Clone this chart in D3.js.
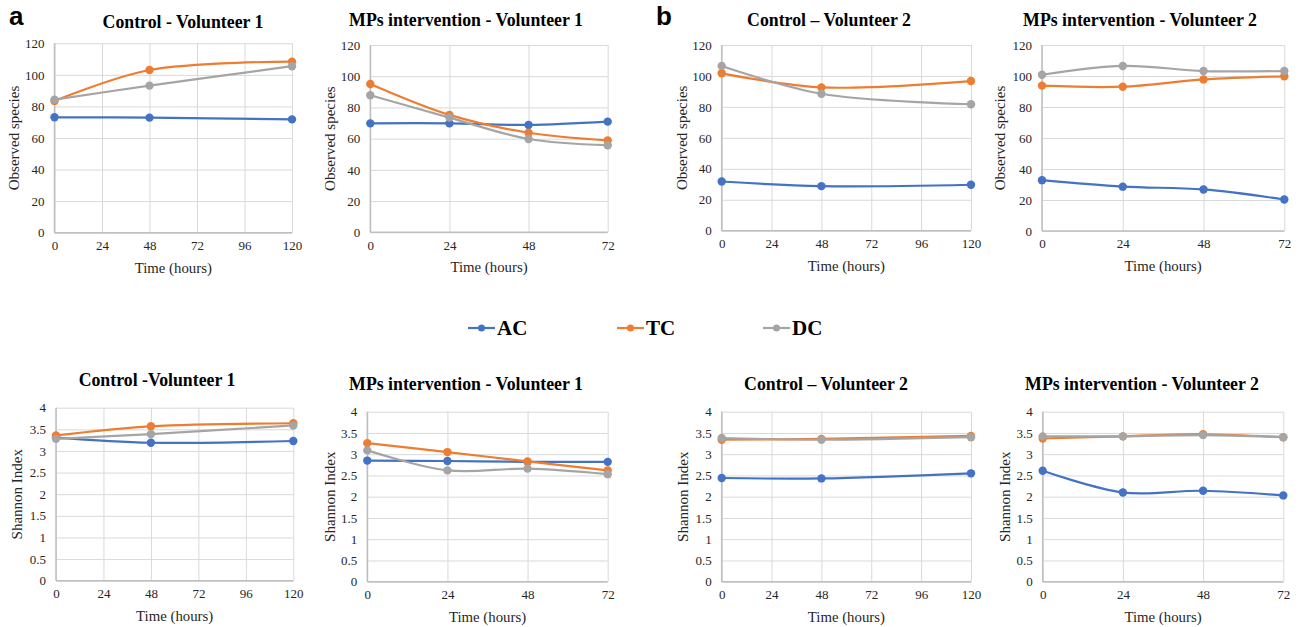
<!DOCTYPE html>
<html><head><meta charset="utf-8">
<script src="https://cdn.jsdelivr.net/npm/d3@7"></script>
<style>body{margin:0;background:#fff}svg{display:block}</style>
</head><body>
<svg id="c" width="1302" height="627"></svg>
<script>
// ---------- DATA ----------
const seriesNames = ["AC", "TC", "DC"];
const timesControl = [0, 48, 120];
const timesMPs = [0, 24, 48, 72];
const xTicksControl = [0, 24, 48, 72, 96, 120];
const xTicksMPs = [0, 24, 48, 72];
const yTicksSpecies = [0, 20, 40, 60, 80, 100, 120];
const yTicksShannon = [0, 0.5, 1, 1.5, 2, 2.5, 3, 3.5, 4];

// Observed species
const obsCtrlV1_AC = [73.1, 72.9, 71.8];
const obsCtrlV1_TC = [83.5, 103.1, 108.4];
const obsCtrlV1_DC = [84.3, 93.2, 105.5];
const obsMPsV1_AC = [69.8, 69.8, 68.8, 70.9];
const obsMPsV1_TC = [95.0, 75.2, 63.8, 58.9];
const obsMPsV1_DC = [87.8, 73.5, 59.8, 55.8];
const obsCtrlV2_AC = [31.8, 28.8, 29.7];
const obsCtrlV2_TC = [101.7, 92.6, 96.7];
const obsCtrlV2_DC = [106.4, 88.5, 81.7];
const obsMPsV2_AC = [32.8, 28.6, 26.8, 20.3];
const obsMPsV2_TC = [93.8, 93.1, 97.8, 99.8];
const obsMPsV2_DC = [100.8, 106.5, 103.2, 103.2];

// Shannon index
const shaCtrlV1_AC = [3.31, 3.19, 3.23];
const shaCtrlV1_TC = [3.36, 3.57, 3.64];
const shaCtrlV1_DC = [3.28, 3.39, 3.59];
const shaMPsV1_AC = [2.85, 2.84, 2.82, 2.82];
const shaMPsV1_TC = [3.26, 3.05, 2.83, 2.62];
const shaMPsV1_DC = [3.09, 2.62, 2.66, 2.53];
const shaCtrlV2_AC = [2.44, 2.43, 2.55];
const shaCtrlV2_TC = [3.34, 3.36, 3.43];
const shaCtrlV2_DC = [3.38, 3.34, 3.40];
const shaMPsV2_AC = [2.61, 2.10, 2.14, 2.03];
const shaMPsV2_TC = [3.37, 3.42, 3.47, 3.40];
const shaMPsV2_DC = [3.42, 3.42, 3.45, 3.40];

const titles = ["Control - Volunteer 1", "MPs intervention - Volunteer 1", "Control \u2013 Volunteer 2", "MPs intervention - Volunteer 2",
                "Control -Volunteer 1", "MPs intervention - Volunteer 1", "Control \u2013 Volunteer 2", "MPs intervention - Volunteer 2"];

// ---------- STYLE / LAYOUT ----------
const colors = {AC: "#4472C4", TC: "#ED7D31", DC: "#A5A5A5"};
const serif = "'Liberation Serif','Times New Roman',serif";

const panels = [
  {t: titles[0], x: timesControl, xt: xTicksControl, yt: yTicksSpecies, ymax: 120, ylab: "Observed species", s: [obsCtrlV1_AC, obsCtrlV1_TC, obsCtrlV1_DC], box: [54.5, 292, 43.3, 232.7], tx: 183, ty: 28, lx: 14},
  {t: titles[1], x: timesMPs, xt: xTicksMPs, yt: yTicksSpecies, ymax: 120, ylab: "Observed species", s: [obsMPsV1_AC, obsMPsV1_TC, obsMPsV1_DC], box: [370.3, 607.7, 45, 232.3], tx: 466, ty: 26, lx: 330},
  {t: titles[2], x: timesControl, xt: xTicksControl, yt: yTicksSpecies, ymax: 120, ylab: "Observed species", s: [obsCtrlV2_AC, obsCtrlV2_TC, obsCtrlV2_DC], box: [721.7, 971, 45, 230.7], tx: 829, ty: 26, lx: 682},
  {t: titles[3], x: timesMPs, xt: xTicksMPs, yt: yTicksSpecies, ymax: 120, ylab: "Observed species", s: [obsMPsV2_AC, obsMPsV2_TC, obsMPsV2_DC], box: [1042, 1284.3, 45, 231], tx: 1140, ty: 26, lx: 1000},
  {t: titles[4], x: timesControl, xt: xTicksControl, yt: yTicksShannon, ymax: 4, ylab: "Shannon Index", s: [shaCtrlV1_AC, shaCtrlV1_TC, shaCtrlV1_DC], box: [56, 293.3, 407.7, 580.7], tx: 157, ty: 386, lx: 17},
  {t: titles[5], x: timesMPs, xt: xTicksMPs, yt: yTicksShannon, ymax: 4, ylab: "Shannon Index", s: [shaMPsV1_AC, shaMPsV1_TC, shaMPsV1_DC], box: [367.3, 607.7, 411.7, 581.7], tx: 466, ty: 390, lx: 330},
  {t: titles[6], x: timesControl, xt: xTicksControl, yt: yTicksShannon, ymax: 4, ylab: "Shannon Index", s: [shaCtrlV2_AC, shaCtrlV2_TC, shaCtrlV2_DC], box: [721.7, 971, 411.7, 581.7], tx: 826, ty: 390, lx: 683},
  {t: titles[7], x: timesMPs, xt: xTicksMPs, yt: yTicksShannon, ymax: 4, ylab: "Shannon Index", s: [shaMPsV2_AC, shaMPsV2_TC, shaMPsV2_DC], box: [1042.7, 1283.3, 411.7, 581.7], tx: 1142, ty: 390, lx: 1005}
];

const svg = d3.select("#c");

panels.forEach(p => {
  const [L, R, T, B] = p.box;
  const x = d3.scaleLinear().domain([0, d3.max(p.xt)]).range([L, R]);
  const y = d3.scaleLinear().domain([0, p.ymax]).range([B, T]);
  const g = svg.append("g");

  // horizontal grid
  g.append("g").attr("transform", `translate(${L},0)`)
    .call(d3.axisLeft(y).tickValues(p.yt).tickSize(-(R - L)).tickFormat(""))
    .call(a => a.select(".domain").remove())
    .call(a => a.selectAll("line").attr("stroke", "#d9d9d9").attr("stroke-width", 1));
  // vertical grid
  g.append("g").attr("transform", `translate(0,${B})`)
    .call(d3.axisBottom(x).tickValues(p.xt).tickSize(-(B - T)).tickFormat(""))
    .call(a => a.select(".domain").remove())
    .call(a => a.selectAll("line").attr("stroke", "#d9d9d9").attr("stroke-width", 1));

  // axis lines
  g.append("line").attr("x1", L).attr("x2", L).attr("y1", T).attr("y2", B).attr("stroke", "#bfbfbf").attr("stroke-width", 1.5);
  g.append("line").attr("x1", L).attr("x2", R).attr("y1", B).attr("y2", B).attr("stroke", "#bfbfbf").attr("stroke-width", 1.5);

  // tick labels
  const ya = g.append("g").attr("transform", `translate(${L},0)`)
    .call(d3.axisLeft(y).tickValues(p.yt).tickSize(0).tickPadding(10).tickFormat(d3.format("")));
  ya.select(".domain").remove();
  ya.selectAll("text").attr("font-family", serif).attr("font-size", 13).attr("fill", "#262626");
  const xa = g.append("g").attr("transform", `translate(0,${B})`)
    .call(d3.axisBottom(x).tickValues(p.xt).tickSize(0).tickPadding(8).tickFormat(d3.format("")));
  xa.select(".domain").remove();
  xa.selectAll("text").attr("font-family", serif).attr("font-size", 13).attr("fill", "#262626");

  // series
  const line = d3.line().x((d, i) => x(p.x[i])).y(d => y(d)).curve(d3.curveCatmullRom.alpha(0.5));
  p.s.forEach((vals, k) => {
    const c = colors[seriesNames[k]];
    g.append("path").datum(vals).attr("d", line).attr("fill", "none").attr("stroke", c).attr("stroke-width", 2.2);
    g.selectAll(null).data(vals).enter().append("circle")
      .attr("cx", (d, i) => x(p.x[i])).attr("cy", d => y(d)).attr("r", 4.2).attr("fill", c);
  });

  // titles
  g.append("text").attr("x", p.tx).attr("y", p.ty).attr("text-anchor", "middle")
    .attr("font-family", serif).attr("font-weight", "bold").attr("font-size", 17.8).attr("fill", "#000").text(p.t);
  g.append("text").attr("x", (L + R) / 2).attr("y", B + 40).attr("text-anchor", "middle")
    .attr("font-family", serif).attr("font-size", 14.8).attr("fill", "#262626").text("Time (hours)");
  g.append("text").attr("transform", `translate(${p.lx + 5},${(T + B) / 2}) rotate(-90)`).attr("text-anchor", "middle")
    .attr("font-family", serif).attr("font-size", 15).attr("fill", "#262626").text(p.ylab);
});

// panel letters
svg.append("text").attr("x", 9).attr("y", 25).attr("font-family", "'Liberation Sans',Arial,sans-serif").attr("font-weight", "bold").attr("font-size", 26).text("a");
svg.append("text").attr("x", 656).attr("y", 25).attr("font-family", "'Liberation Sans',Arial,sans-serif").attr("font-weight", "bold").attr("font-size", 26).text("b");

// legend
const legX = [468, 617, 763];
seriesNames.forEach((n, i) => {
  const lg = svg.append("g");
  lg.append("line").attr("x1", legX[i]).attr("x2", legX[i] + 27).attr("y1", 328).attr("y2", 328).attr("stroke", colors[n]).attr("stroke-width", 2.2);
  lg.append("circle").attr("cx", legX[i] + 13.5).attr("cy", 328).attr("r", 3.5).attr("fill", colors[n]);
  lg.append("text").attr("x", legX[i] + 29).attr("y", 335).attr("font-family", serif).attr("font-weight", "bold").attr("font-size", 21).text(n);
});
</script>
</body></html>
